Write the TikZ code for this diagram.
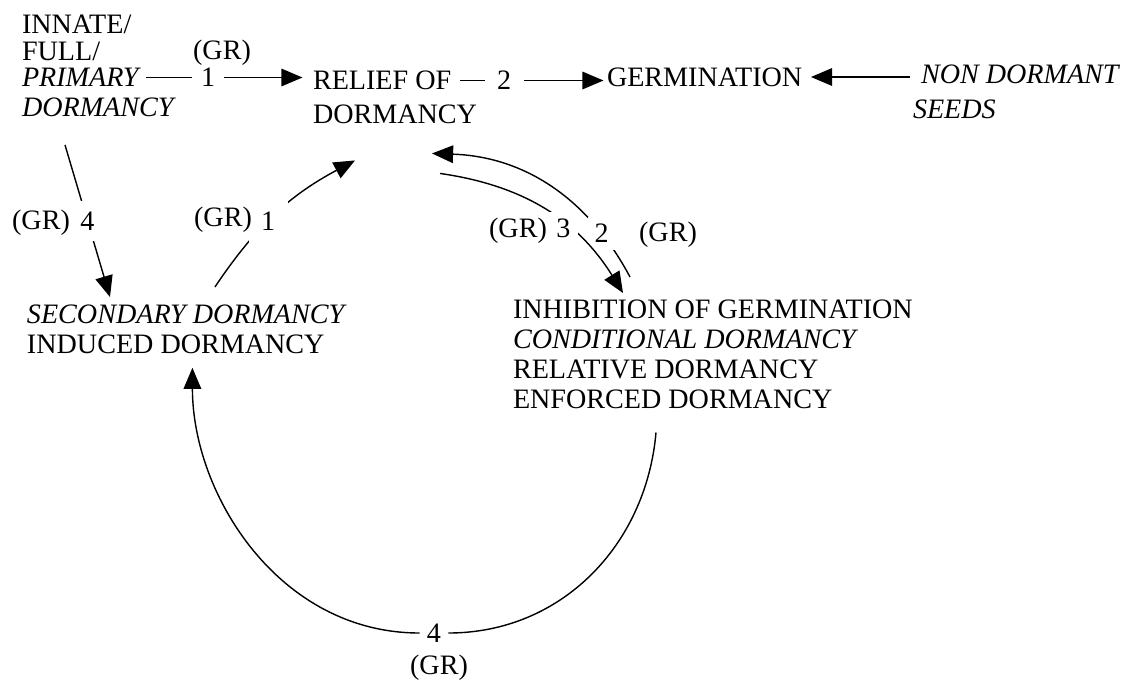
\documentclass[tikz,border=0pt]{standalone}
\usepackage{fontspec}
\setmainfont{Liberation Serif}
\usepackage{tikz}
\usetikzlibrary{arrows.meta,positioning}

\begin{document}
\begin{tikzpicture}[x=0.02cm,y=0.02cm,
    txt/.style={inner sep=0pt, outer sep=0pt, align=left, font=\fontsize{16}{17}\selectfont},
    num/.style={fill=white, inner sep=#1, font=\fontsize{16}{17}\selectfont},
    num/.default=5pt,
    ln/.style={line width=0.8pt},
    arr/.style={line width=0.8pt, -{Triangle[length=12pt,width=10pt]}}]
  \useasboundingbox (0,0) rectangle (1148,-693);

  \node[txt, anchor=north west, font=\fontsize{16}{15.5}\selectfont] (innate) at (22,-15) {INNATE/\\FULL/};
  \node[txt, anchor=west] (primary) at (22,-77.5) {\textit{PRIMARY}};
  \node[txt, anchor=west] (primdorm) at (22,-107.5) {\textit{DORMANCY}};
  \node[txt, anchor=west] (relief) at (313,-80.5) {RELIEF OF};
  \node[txt, anchor=west] (reliefd) at (313,-114) {DORMANCY};
  \node[txt, anchor=west] (germ) at (607,-77) {GERMINATION};
  \node[txt, anchor=west] (nondorm) at (921,-74) {\textit{NON DORMANT}};
  \node[txt, anchor=west] (seeds) at (913,-109) {\textit{SEEDS}};
  \node[txt, anchor=north west] (second) at (27,-305) {\textit{SECONDARY DORMANCY}\\INDUCED DORMANCY};
  \node[txt, anchor=north west] (inhib) at (513,-300)
    {INHIBITION OF GERMINATION\\\textit{CONDITIONAL DORMANCY}\\RELATIVE DORMANCY\\ENFORCED DORMANCY};
  \node[num=4pt, fill=none] (n4) at (434,-633) {4};

  \draw[arr, shorten <=3pt, shorten >=6pt] (primary.east) -- node[num, pos=0.39] (p1) {1} (primary.east -| relief.west);
  \draw[arr, shorten <=5pt, shorten >=2pt] (relief.east) -- node[num=7pt, pos=0.34] (p2) {2} (relief.east -| germ.west);
  \draw[arr, shorten <=6pt, shorten >=5pt] (nondorm.west |- germ.east) -- (germ.east);
  \draw[arr] ([shift={(43,-28)}]primdorm.south west) -- node[num=6pt] (p4) {4} ([shift={(83,8)}]second.north west);
  \draw[arr] ([shift={(28,18)}]second.north) to[bend left=14] node[num=7pt, pos=0.44] (q1) {1} ([shift={(42,-37)}]reliefd.south west);
  \draw[arr] ([shift={(117,23)}]inhib.north west) to[bend right=30] node[num=4pt, pos=0.2] (q2) {2} ([shift={(-45,-30)}]reliefd.south east);
  \draw[arr] ([shift={(-37,-50)}]reliefd.south east) to[bend left=25] node[num=4pt, pos=0.6, yshift=-3pt] (q3) {3} ([shift={(110,7)}]inhib.north west);
  \draw[ln] ([shift={(143,-24)}]inhib.south west) to[out=-95,in=0] (n4);
  \draw[arr, shorten >=8pt] (n4) to[out=180,in=-90] ([shift={(5.5,0)}]second.south);

  \node[txt] (gra) at (222,-53) {(GR)};
  \node[txt] (grb) at (41,-223) {(GR)};
  \node[txt] (grc) at (223,-220) {(GR)};
  \node[txt] (grd) at (518,-231) {(GR)};
  \node[txt] (gre) at (668,-235) {(GR)};
  \node[txt] (grf) at (439,-668) {(GR)};
\end{tikzpicture}
\end{document}
